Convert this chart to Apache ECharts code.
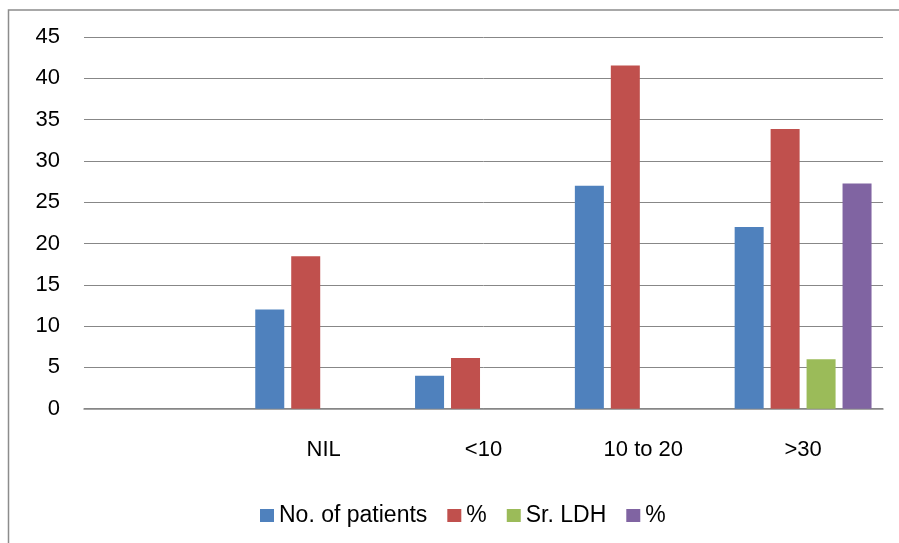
<!DOCTYPE html>
<html>
<head>
<meta charset="utf-8">
<script src="https://cdn.jsdelivr.net/npm/echarts@6/dist/echarts.min.js"></script>
<style>
  html, body { margin: 0; padding: 0; background: #fff; }
  #chart { width: 899px; height: 543px; }
</style>
</head>
<body>
<div id="chart"></div>
<script>
// Category labels (the first slot is left blank on purpose)
const categories = ['', 'NIL', '<10', '10 to 20', '>30'];
// Number of patients per group
const patients = [null, 12, 4, 27, 22];
// Share of all patients, in percent
const patientPct = [null, 18.46, 6.15, 41.54, 33.85];
// Raised serum LDH count per group
const srLdh = [null, null, null, null, 6];
// Share with raised LDH, in percent
const srLdhPct = [null, null, null, null, 27.27];
// Value axis ticks
const yTicks = { min: 0, max: 45, interval: 5 };

const FONT = 'Liberation Sans';
const GRID_COLOR = '#878787';

const chart = echarts.init(document.getElementById('chart'), null, { renderer: 'canvas' });

function barSeries(name, data, color) {
  return {
    name: name,
    type: 'bar',
    data: data,
    barWidth: 29,
    barGap: '24%',
    itemStyle: { color: color },
    emphasis: { disabled: true }
  };
}

chart.setOption({
  animation: false,
  backgroundColor: '#ffffff',
  textStyle: { fontFamily: FONT },
  graphic: [{
    type: 'rect',
    shape: { x: 8.5, y: 10, width: 1200, height: 1200 },
    style: { fill: 'none', stroke: '#8c8c8c', lineWidth: 1.5 },
    silent: true
  }],
  grid: { left: 84, right: 16, top: 37, bottom: 134.3, containLabel: false },
  legend: {
    left: 255,
    top: 499,
    itemWidth: 14,
    itemHeight: 13,
    itemGap: 20,
    icon: 'rect',
    textStyle: { fontFamily: FONT, fontSize: 23, color: '#000' },
    selectedMode: false,
    data: ['No. of patients', '%', 'Sr. LDH', '% ']
  },
  xAxis: {
    type: 'category',
    data: categories,
    axisLine: { show: true, lineStyle: { color: GRID_COLOR, width: 1.5 } },
    axisTick: { show: false },
    axisLabel: { color: '#000', fontSize: 22, fontFamily: FONT, margin: 30, interval: 0 },
    splitLine: { show: false }
  },
  yAxis: {
    type: 'value',
    min: yTicks.min,
    max: yTicks.max,
    interval: yTicks.interval,
    axisLine: { show: false },
    axisTick: { show: false },
    axisLabel: { color: '#000', fontSize: 22, fontFamily: FONT, margin: 24 },
    splitLine: { show: true, lineStyle: { color: GRID_COLOR, width: 1 } }
  },
  series: [
    barSeries('No. of patients', patients, '#4F81BD'),
    barSeries('%', patientPct, '#C0504D'),
    barSeries('Sr. LDH', srLdh, '#9BBB59'),
    barSeries('% ', srLdhPct, '#8064A2')
  ]
});
</script>
</body>
</html>
